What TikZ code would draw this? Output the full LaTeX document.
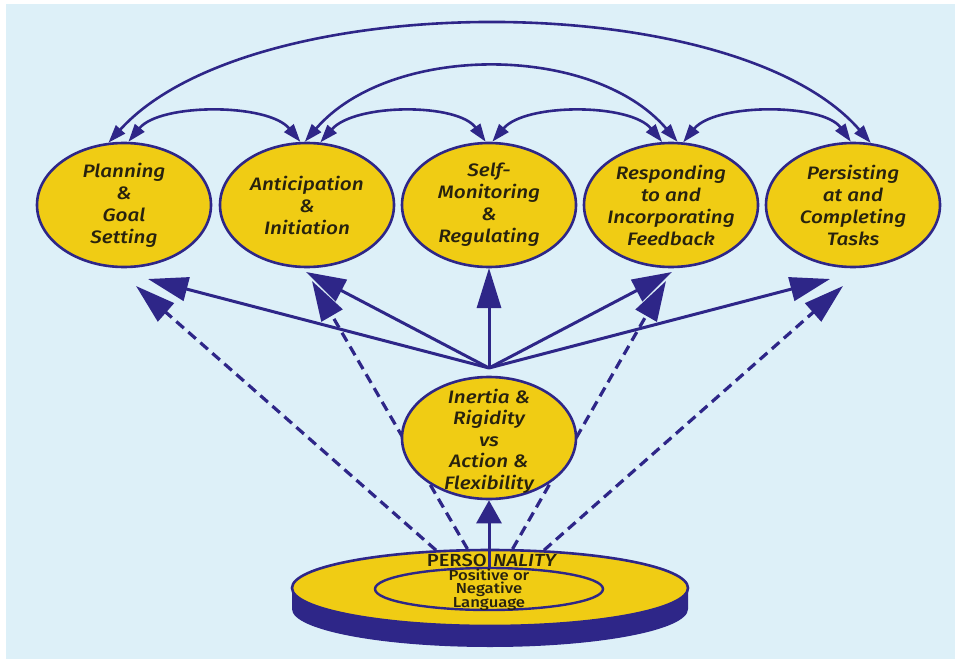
\documentclass[tikz,border=0pt]{standalone}
\usepackage{fontspec}
\setmainfont{Fira Sans}
\newfontfamily\medfont{Fira Sans Medium}[FakeStretch=1.15]
\usetikzlibrary{arrows.meta,shapes.geometric}
\definecolor{bgblue}{RGB}{221,240,248}
\definecolor{navy}{RGB}{46,38,136}
\definecolor{gold}{RGB}{240,204,20}
\definecolor{ink}{RGB}{40,34,14}
\begin{document}
\begin{tikzpicture}[x=1pt,y=-1pt,
 goal/.style={ellipse,draw=navy,line width=2.6pt,fill=gold,minimum width=174pt,minimum height=124pt,inner sep=0pt},
 goaltext/.style={align=center,text=ink,font=\medfont\fontsize{18}{22}\selectfont\itshape,inner sep=0pt},
 arcarrow/.style={draw=navy,line width=2.6pt,{Triangle[length=18pt,width=12pt]}-{Triangle[length=18pt,width=12pt]}},
 solidarrow/.style={draw=navy,line width=3pt,-{Triangle[length=40pt,width=24pt]}},
 dasharrow/.style={draw=navy,line width=3.2pt,dash pattern=on 10pt off 6pt,-{Triangle[length=40pt,width=24pt]}},
]
\useasboundingbox (0,0) rectangle (960,663);
\fill[white] (0,0) rectangle (960,663);
\fill[bgblue] (6,4) rectangle (955,659);

% top row
\node[goal] (plan) at (124,205) {};
\node[goal] (ant) at (307,205) {};
\node[goal] (selfm) at (489,205) {};
\node[goal] (resp) at (671,205) {};
\node[goal] (pers) at (853,205) {};
\node[goaltext] (planT) at (124,205) {Planning\\\&\\Goal\\Setting};
\node[goaltext] (antT) at (307,205) {Anticipation\\\&\\Initiation};
\node[goaltext] (selfT) at (489,205) {Self-\\Monitoring\\\&\\Regulating};
\node[goaltext] (respT) at (671,205) {Responding\\to and\\Incorporating\\Feedback};
\node[goaltext] (persT) at (853,205) {Persisting\\at and\\Completing\\Tasks};

% top arcs
\draw[arcarrow] (plan.104) .. controls (250,-14) and (735,-14) .. (pers.74);
\draw[arcarrow] (ant.92) .. controls (390,43) and (593,43) .. (resp.84);
\draw[arcarrow] (plan.86) .. controls (160,103) and (268,103) .. (ant.96);
\draw[arcarrow] (ant.78) .. controls (355,103) and (458,103) .. (selfm.93);
\draw[arcarrow] (selfm.87) .. controls (525,103) and (630,103) .. (resp.98);
\draw[arcarrow] (resp.79) .. controls (715,103) and (823,103) .. (pers.92);

% disk
\fill[navy] (292,588) -- (292,609) arc[start angle=180,end angle=0,x radius=198,y radius=38]
  -- (688,588) arc[start angle=0,end angle=180,x radius=198,y radius=38] -- cycle;
\node[ellipse,draw=navy,line width=2.6pt,fill=gold,minimum width=396pt,minimum height=76pt,inner sep=0pt] (disk) at (490,588) {};
\node[ellipse,draw=navy,line width=2.4pt,minimum width=228pt,minimum height=42pt,inner sep=0pt] (inner) at (489,589) {};
\node[align=center,text=ink,inner sep=0pt,font=\medfont\fontsize{14.5}{11.2}\selectfont] (langT) at (489,590) {Positive or\\Negative\\Language};
\node[anchor=east,text=ink,inner sep=0pt,font=\medfont\fontsize{17.5}{17}\selectfont] (perso) at (487,560) {PERSO};
\node[anchor=west,text=ink,inner sep=0pt,font=\medfont\fontsize{17.5}{17}\selectfont\itshape] (nality) at (493,560) {NALITY};

% tips
\coordinate (hub) at (489,368);
\coordinate (tPs) at (148,279);
\coordinate (tAs) at (306,272);
\coordinate (tSs) at (489,268);
\coordinate (tRs) at (672,272);
\coordinate (tQs) at (830,279);
\coordinate (tPd) at (136,286);
\coordinate (tAd) at (312,281);
\coordinate (tRd) at (666,281);
\coordinate (tQd) at (843,286);

% dashed
\draw[dasharrow] (disk.145) -- (tPd);
\draw[dasharrow] (disk.120) -- (tAd);
\draw[dasharrow] (disk.60) -- (tRd);
\draw[dasharrow] (disk.35) -- (tQd);

% solid
\draw[solidarrow] (hub) -- (tPs);
\draw[solidarrow] (hub) -- (tAs);
\draw[solidarrow] (hub) -- (tSs);
\draw[solidarrow] (hub) -- (tRs);
\draw[solidarrow] (hub) -- (tQs);

% middle
\node[goal,minimum width=174pt,minimum height=122pt] (inertia) at (489,438) {};
\node[goaltext,font=\medfont\fontsize{18}{21.5}\selectfont\itshape] (inertiaT) at (489,441) {Inertia \&\\Rigidity\\vs\\Action \&\\Flexibility};

\draw[draw=navy,line width=3pt,-{Triangle[length=23pt,width=25pt]}] (inner.north) -- (inertia.south);
\end{tikzpicture}
\end{document}
